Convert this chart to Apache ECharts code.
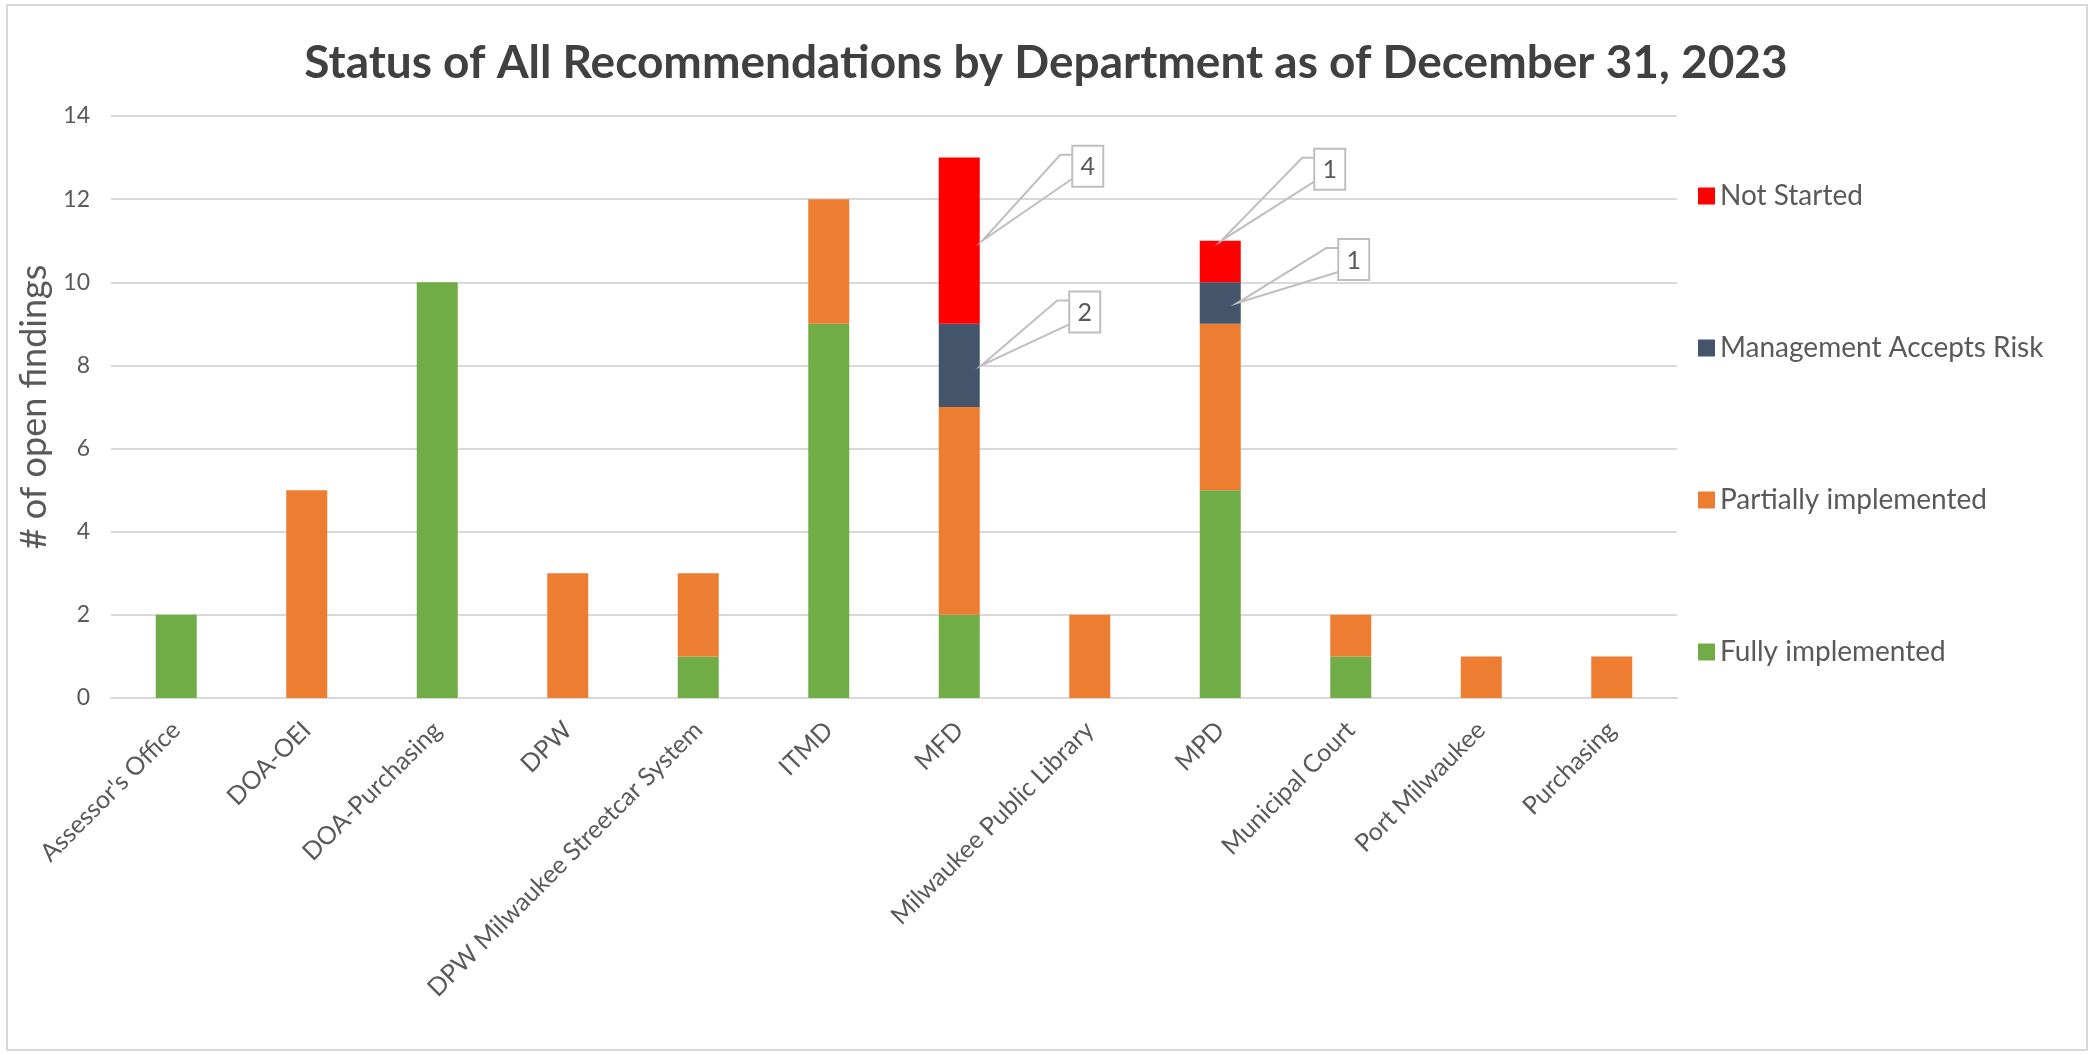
<!DOCTYPE html>
<html>
<head>
<meta charset="utf-8">
<script src="https://cdn.jsdelivr.net/npm/echarts@6/dist/echarts.min.js"></script>
<style>
  html, body { margin: 0; padding: 0; background: #fff; }
  #chart { width: 2092px; height: 1055px; }
</style>
</head>
<body>
<div id="chart"></div>
<script>
const titleText = 'Status of All Recommendations by Department as of December 31, 2023';
const yAxisName = '# of open findings';
const categories = ["Assessor's Office", 'DOA-OEI', 'DOA-Purchasing', 'DPW', 'DPW Milwaukee Streetcar System', 'ITMD', 'MFD', 'Milwaukee Public Library', 'MPD', 'Municipal Court', 'Port Milwaukee', 'Purchasing'];
const fullyImplemented      = [2, 0, 10, 0, 1, 9, 2, 0, 5, 1, 0, 0];
const partiallyImplemented  = [0, 5, 0, 3, 2, 3, 5, 2, 4, 1, 1, 1];
const managementAcceptsRisk = [0, 0, 0, 0, 0, 0, 2, 0, 1, 0, 0, 0];
const notStarted            = [0, 0, 0, 0, 0, 0, 4, 0, 1, 0, 0, 0];
const yTicks = { min: 0, max: 14, interval: 2 };

const FONT = 'Lato, "Open Sans", sans-serif';
const TXT = '#595959';
const GRID = '#d9d9d9';
const CALLOUT = '#bfbfbf';

// stack order bottom -> top
const stackSeries = [
  { name: 'Fully implemented', color: '#70AD47', data: fullyImplemented },
  { name: 'Partially implemented', color: '#ED7D31', data: partiallyImplemented },
  { name: 'Management Accepts Risk', color: '#44546A', data: managementAcceptsRisk },
  { name: 'Not Started', color: '#FF0000', data: notStarted }
];

// callout presentation: which segment, where on it the pointer lands, and box offset (px)
const callouts = [
  { series: 3, index: 6, frac: 0.5, ax: 23, boxDx: 90,  boxDy: -95 },
  { series: 2, index: 6, frac: 0.5, ax: 22, boxDx: 88,  boxDy: -74 },
  { series: 3, index: 8, frac: 1.0, ax: 1,  boxDx: 93,  boxDy: -92 },
  { series: 2, index: 8, frac: 0.5, ax: 17, boxDx: 101, boxDy: -64 }
];

function nz(arr) { return arr.map(v => v === 0 ? null : v); }

const chart = echarts.init(document.getElementById('chart'), null, { renderer: 'canvas' });

const option = {
  backgroundColor: '#fff',
  animation: false,
  title: {
    text: titleText,
    left: 'center',
    top: 35,
    textStyle: { fontFamily: FONT, fontWeight: 'bold', fontSize: 46, color: '#404040' }
  },
  legend: {
    orient: 'vertical',
    left: 1693,
    top: 177,
    itemWidth: 17,
    itemHeight: 17,
    itemGap: 124,
    icon: 'rect',
    data: ['Not Started', 'Management Accepts Risk', 'Partially implemented', 'Fully implemented'],
    textStyle: { fontFamily: FONT, fontSize: 28, color: TXT }
  },
  grid: { left: 111, right: 415, top: 116, bottom: 357, containLabel: false },
  xAxis: {
    type: 'category',
    data: categories,
    axisLine: { lineStyle: { color: GRID, width: 2 } },
    axisTick: { show: false },
    axisLabel: { rotate: 45, interval: 0, margin: 28, fontFamily: FONT, fontSize: 25, color: TXT }
  },
  yAxis: {
    type: 'value',
    min: yTicks.min, max: yTicks.max, interval: yTicks.interval,
    name: yAxisName,
    nameLocation: 'middle',
    nameRotate: 90,
    nameGap: 54,
    nameTextStyle: { fontFamily: FONT, fontSize: 36, color: TXT },
    axisLine: { show: false },
    axisTick: { show: false },
    axisLabel: { margin: 21, fontFamily: FONT, fontSize: 23, color: TXT },
    splitLine: { lineStyle: { color: GRID, width: 2 } }
  },
  series: stackSeries.map(s => ({
    name: s.name, type: 'bar', stack: 'all', barWidth: 41,
    itemStyle: { color: s.color }, data: nz(s.data)
  }))
};
chart.setOption(option);

// build callouts from the data through the chart's own coordinate system
const graphics = [{
  type: 'rect', silent: true, z: -1,
  shape: { x: 7, y: 5, width: 2080, height: 1045 },
  style: { fill: null, stroke: GRID, lineWidth: 2 }
}];
const BOX_W = 31, BOX_H = 41;
callouts.forEach(c => {
  let base = 0;
  for (let k = 0; k < c.series; k++) base += stackSeries[k].data[c.index];
  const val = stackSeries[c.series].data[c.index];
  const p = chart.convertToPixel({ xAxisIndex: 0, yAxisIndex: 0 }, [c.index, base + val * c.frac]);
  const ax = p[0] + c.ax, ay = p[1];
  const bl = ax + c.boxDx, bt = ay + c.boxDy;
  graphics.push({
    type: 'polyline', silent: true, z: 10,
    shape: { points: [[bl, bt + 9], [bl - 12, bt + 9], [ax, ay], [bl, bt + 33]] },
    style: { stroke: CALLOUT, lineWidth: 2, fill: null }
  });
  graphics.push({
    type: 'rect', silent: true, z: 11,
    shape: { x: bl, y: bt, width: BOX_W, height: BOX_H },
    style: { fill: '#fff', stroke: CALLOUT, lineWidth: 2 }
  });
  graphics.push({
    type: 'text', silent: true, z: 12,
    style: {
      text: String(val), x: bl + BOX_W / 2, y: bt + BOX_H / 2 + 1,
      align: 'center', verticalAlign: 'middle',
      fontFamily: FONT, fontSize: 25, fill: TXT
    }
  });
});
chart.setOption({ graphic: graphics });
</script>
</body>
</html>
